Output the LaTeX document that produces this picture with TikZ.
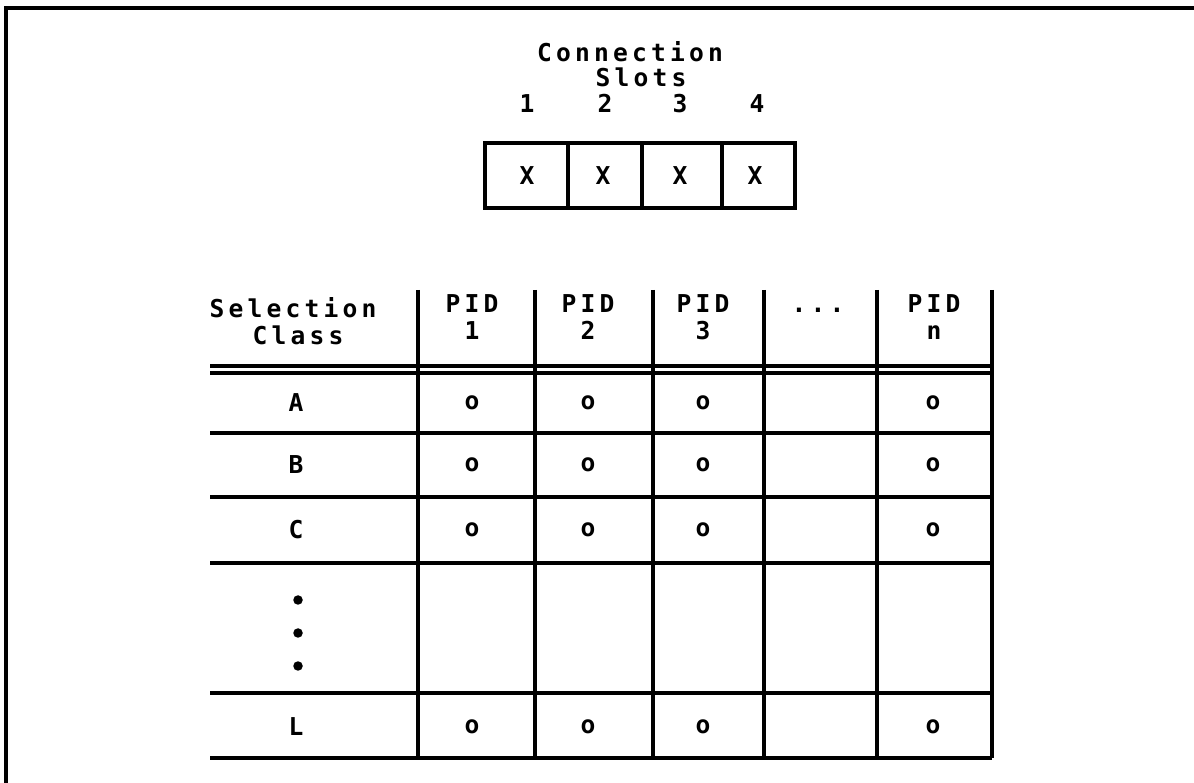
\documentclass[tikz,border=0pt]{standalone}
\usepackage{fontspec}
\newfontfamily\plotfont[LetterSpace=17]{DejaVu Sans Mono Bold}
\tikzset{
    txt/.style={font=\plotfont\fontsize{14}{16}\selectfont, inner sep=0pt, anchor=base},
    cell/.style={font=\plotfont\fontsize{14}{16}\selectfont, inner sep=0pt},
    rule/.style={line width=2pt},
    dot/.style={circle, fill, inner sep=0pt, minimum size=0.19cm},
}
\begin{document}
\begin{tikzpicture}[x=0.02cm, y=-0.02cm]
            \useasboundingbox (0,0) rectangle (1194,783);
            \draw[line width=2.4pt] (1194,8) -- (6,8) -- (6,783);

            % connection slots
            \node[txt] (conn) at (630,62) {Connection};
            \node[txt] (slots) at (641,87) {Slots};
            \foreach \n/\x in {1/527,2/605,3/680,4/757}
            {
                \node[txt] (num\n) at (\x,113) {\n};
            }
            \draw[rule] (485,143) rectangle (795,208);
            \foreach \x in {568,642,722}
            {
                \draw[rule] (\x,143) -- (\x,208);
            }
            \foreach \n/\x in {1/527,2/603,3/680,4/755}
            {
                \node[cell] (slot\n) at (\x,176) {X};
            }

            % table
            \foreach \x in {418,535,653,764,877,992}
            {
                \draw[rule] (\x,290) -- (\x,758);
            }
            \foreach \y in {366,373,433,497,563,693,758}
            {
                \draw[rule] (210,\y) -- (992,\y);
            }

            \node[txt] (sel) at (293,318) {Selection};
            \node[txt] (cls) at (298,345) {Class};
            \foreach \i/\x in {1/472,2/588,3/703,n/934}
            {
                \node[txt] (pid\i) at (\x,313) {PID};
                \node[txt] (idx\i) at (\x,340) {\i};
            }
            \node[txt] (more) at (818,313) {...};

            \foreach \r/\y in {A/403,B/465,C/530,L/727}
            {
                \node[cell] (row\r) at (296,\y) {\r};
                \foreach \c/\x in {1/472,2/588,3/703,n/933}
                {
                    \node[cell] (o\r\c) at (\x,\y) {o};
                }
            }
            \foreach \k/\y in {1/600,2/633,3/666}
            {
                \node[dot] (vdot\k) at (298,\y) {};
            }
        \end{tikzpicture}
\end{document}
